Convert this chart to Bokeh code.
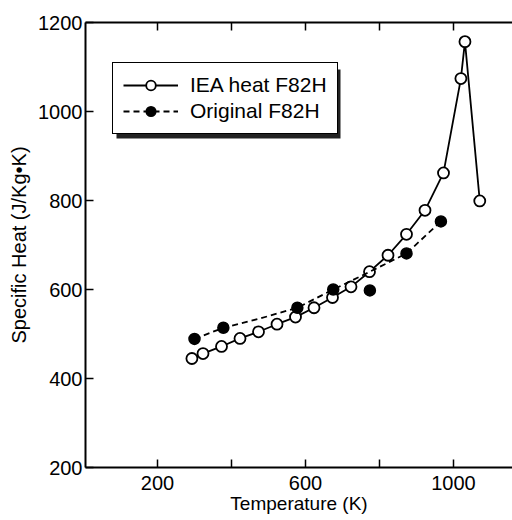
from bokeh.plotting import figure
from bokeh.models import Range1d, LinearAxis, Legend, LegendItem, FixedTicker, BoxAnnotation
from bokeh.embed import file_html
from bokeh.resources import INLINE

# IEA heat F82H (open circles, solid line)
iea_temp = [293, 323, 373, 423, 473, 523, 573, 623, 673, 723, 773, 823, 873, 923, 973, 1020, 1031, 1071]
iea_cp = [445, 456, 472, 490, 505, 522, 538, 559, 582, 606, 640, 677, 724, 778, 862, 1074, 1157, 799]

# Original F82H (filled circles)
orig_temp = [300, 378, 578, 675, 774, 873, 966]
orig_cp = [489, 514, 559, 600, 598, 681, 753]

# Original F82H trend curve (dashed)
fit_temp = [300, 378, 478, 578, 675, 774, 873, 966]
fit_cp = [489, 514, 535, 559, 600, 640, 681, 753]

x_major = [200, 600, 1000]
x_minor = [400, 800]
y_ticks = [200, 400, 600, 800, 1000, 1200]

FONT = "Liberation Sans"

p = figure(width=512, height=520, output_backend="svg", toolbar_location=None,
           x_range=Range1d(5.4, 1159.5), y_range=Range1d(200, 1200),
           min_border_left=85, min_border_right=0, min_border_top=22, min_border_bottom=53)
p.outline_line_color = None
p.grid.visible = False

bottom = p.below[0]
left = p.left[0]
bottom.ticker = FixedTicker(ticks=x_major, minor_ticks=x_minor)
left.ticker = FixedTicker(ticks=y_ticks, minor_ticks=[])
bottom.axis_label = "Temperature (K)"
left.axis_label = "Specific Heat (J/Kg\u2022K)"

top = LinearAxis(ticker=FixedTicker(ticks=[], minor_ticks=x_major + x_minor))
p.add_layout(top, "above")

for ax in [bottom, left, top]:
    ax.axis_line_width = 2
    ax.axis_line_color = "black"
    ax.major_tick_in = 8
    ax.major_tick_out = 0
    ax.minor_tick_in = 8
    ax.minor_tick_out = 0
    ax.major_tick_line_width = 1.5
    ax.minor_tick_line_width = 1.5
    ax.major_tick_line_color = "black"
    ax.minor_tick_line_color = "black"
    ax.major_label_text_font = FONT
    ax.major_label_text_font_size = "20px"
    ax.major_label_text_color = "black"
    ax.axis_label_text_font = FONT
    ax.axis_label_text_font_style = "normal"
    ax.axis_label_text_color = "black"

bottom.axis_label_text_font_size = "19px"
left.axis_label_text_font_size = "20px"
top.major_label_standoff = 0
bottom.major_label_standoff = 8
bottom.axis_label_standoff = 0
left.major_label_standoff = 3
left.axis_label_standoff = 5

l1 = p.line(iea_temp, iea_cp, line_color="black", line_width=1.8)
s1 = p.scatter(iea_temp, iea_cp, marker="circle", size=11, fill_color="white",
               line_color="black", line_width=1.8)
l2 = p.line(fit_temp, fit_cp, line_color="black", line_width=1.8, line_dash="6 4")
s2 = p.scatter(orig_temp, orig_cp, marker="circle", size=11, fill_color="black",
               line_color="black", line_width=1.5)

# drop shadow behind the legend box (screen units, from frame bottom-left)
shadow = BoxAnnotation(left=31, right=255, top=398, bottom=329,
                       left_units="screen", right_units="screen",
                       top_units="screen", bottom_units="screen",
                       fill_color="#222222", fill_alpha=1, line_color=None)
p.add_layout(shadow)

legend = Legend(items=[LegendItem(label="IEA heat F82H", renderers=[l1, s1]),
                       LegendItem(label="Original F82H", renderers=[l2, s2])],
                location=(27, 333), glyph_width=55, glyph_height=24, spacing=2,
                padding=10, margin=0, label_standoff=12,
                label_text_font=FONT, label_text_font_size="21px",
                label_text_color="black",
                border_line_color="black", border_line_width=1.5, border_line_alpha=1,
                background_fill_color="white", background_fill_alpha=1)
p.add_layout(legend, "center")

open("out.html", "w").write(file_html(p, INLINE))
